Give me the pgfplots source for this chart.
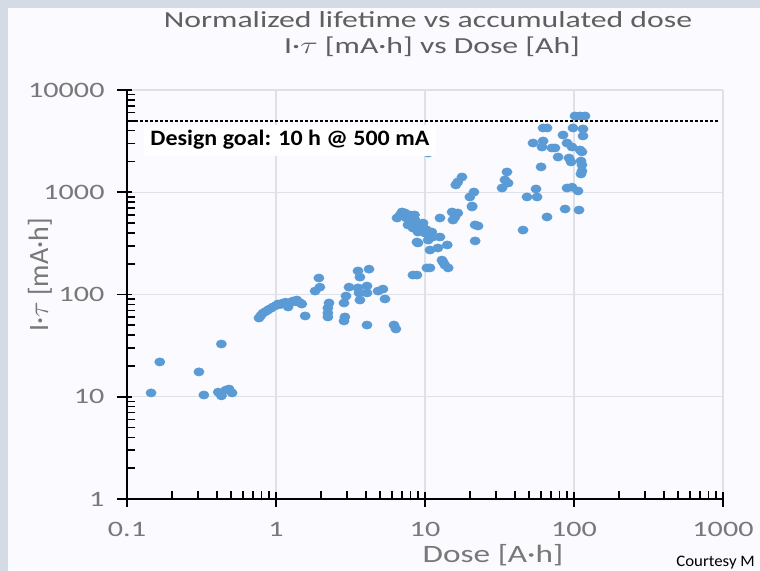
\documentclass[border=0pt]{standalone}
\usepackage{pgfplots}
\pgfplotsset{compat=1.18}
\usepackage{fontspec}
\setmainfont{Carlito}
\definecolor{dotblue}{RGB}{91,155,213}
\definecolor{titlegray}{RGB}{95,95,95}
\definecolor{labelgray}{RGB}{120,120,120}
\definecolor{gridgray}{RGB}{222,226,232}
\definecolor{panel}{RGB}{212,219,229}

\begin{document}
\begin{tikzpicture}
% page = 760 x 571 px, 1px = 0.5pt
\useasboundingbox (0,0) rectangle (380pt,285.5pt);
\begin{scope}[x=0.5pt,y=0.5pt]
\fill[panel] (0,0) rectangle (760,571);
\fill[white!98!blue] (8,0) rectangle (760,563);
\end{scope}

\begin{axis}[
    at={(63.5pt,36pt)}, anchor=south west,
    scale only axis, width=298pt, height=204.5pt,
    xmode=log, ymode=log,
    xmin=0.1, xmax=1000, ymin=1, ymax=10000,
    axis x line*=bottom, axis y line*=left,
    axis line style={black, line width=0.9pt},
    xtick={0.1,1,10,100,1000}, xticklabels={0.1,1,10,100,1000},
    ytick={1,10,100,1000,10000}, yticklabels={1,10,100,1000,10000},
    minor xtick={0.2,0.3,0.4,0.5,0.6,0.7,0.8,0.9,2,3,4,5,6,7,8,9,20,30,40,50,60,70,80,90,200,300,400,500,600,700,800,900},
    minor ytick={2,3,4,5,6,7,8,9,20,30,40,50,60,70,80,90,200,300,400,500,600,700,800,900,2000,3000,4000,5000,6000,7000,8000,9000},
    tick align=inside, major tick length=7.5pt, minor tick length=4pt,
    every major x tick/.append style={yshift=-4pt},
    every major y tick/.append style={xshift=-5pt},
    tick style={black, line width=0.8pt},
    grid=major, major grid style={gridgray, line width=0.6pt},
    ticklabel style={font=\fontsize{11}{13}\selectfont, text=labelgray, xscale=1.37},
    xticklabel shift=8pt, yticklabel shift=6.4pt,
]

% measured points: dose [A h], I*tau [mA h]
\addplot[dotblue, only marks, mark=*, mark size=2pt,
    mark options={fill=dotblue, draw=dotblue, xscale=1.25}] table {
x y
0.145 10.9
0.166 21.9
0.304 17.5
0.328 10.4
0.41 11.1
0.43 10.2
0.43 32.8
0.46 11.6
0.484 11.9
0.507 10.9
0.769 58.9
0.79 62
0.818 65.9
0.85 68
0.883 70.5
0.92 73
0.955 75.5
1.0 78
1.03 80.7
1.08 80
1.114 82.6
1.16 84
1.205 75.5
1.25 84
1.30 86.3
1.35 85
1.38 88.3
1.45 83
1.49 80.7
1.57 61.7
1.83 108
1.94 145
1.97 118
2.23 60.3
2.23 65.9
2.23 73.8
2.27 82.6
2.86 55.1
2.86 82.6
2.90 60.3
2.95 96.6
3.09 118
3.55 116
3.55 170
3.61 103.5
3.66 88.3
3.66 148
4.08 50.3
4.08 103.5
4.08 121
4.21 177
4.84 108
5.22 113
5.39 90.4
6.19 50.3
6.38 46
8.3 155
8.83 155
10.3 182
6.49 560
6.80 600
7.01 641
7.34 627
7.5 560
7.69 479
7.93 600
8.0 520
8.18 573
8.30 447
8.5 600
8.57 535
8.83 326
8.97 408
8.97 319
9.0 430
9.2 480
9.70 500
9.70 457
10.0 399
10.2 430
10.5 341
10.8 382
10.8 272
10.8 182
11.1 408
11.3 365
12.2 285
12.6 560
12.6 365
13.0 217
13.2 208
13.6 194
14.1 305
14.3 182
15.2 641
15.4 535
15.9 573
16.6 627
20.7 718
21.7 479
21.7 334
22.7 468
10.5 2420
16.1 1180
16.6 1260
17.7 1410
20.0 899
20.7 734
21.3 1005
32.9 1100
34.4 1320
35.5 1580
36.1 1230
45.5 427
48.4 899
53.1 3030
55.6 1077
56.5 899
60.1 1770
61.0 2770
62.0 3170
62.0 4250
65.9 4250
65.9 573
71.1 2710
74.5 2710
78.2 2210
84.4 3630
87.1 686
89.8 3030
89.8 1100
92.5 2160
95.5 1980
97.0 2770
97.0 1120
98.5 4250
101.6 5570
106.4 1030
108.1 670
109.8 5570
109.8 2590
111.4 2020
111.4 1510
113.1 2480
113.1 1850
113.1 1610
114.9 4160
114.9 3550
118.6 5570
};

% design goal 10 h at 500 mA
\addplot[black, line width=0.8pt, dash pattern=on 1.2pt off 1.3pt] coordinates {(0.105,5000) (920,5000)};
\end{axis}

\begin{scope}[x=0.5pt,y=0.5pt]
% annotation box, drawn over the markers
\node[anchor=base west, fill=white, inner xsep=3pt, inner ysep=3pt, text depth=2.2pt,
    font=\bfseries\fontsize{11}{13}\selectfont, xscale=1.09]
    at (143.5,425) {Design goal: 10 h @ 500 mA};
\node[anchor=base, text=titlegray, font=\fontsize{11.5}{14}\selectfont, xscale=1.38]
    at (428,543) {Normalized lifetime vs accumulated dose};
\node[anchor=base, text=titlegray, font=\fontsize{11.5}{14}\selectfont, xscale=1.38]
    at (432,517) {I·$\tau$ [mA·h] vs Dose [Ah]};
\node[anchor=base, text=labelgray, font=\fontsize{12.5}{14}\selectfont, xscale=1.33]
    at (493,8) {Dose [A·h]};
\node[rotate=90, text=labelgray, font=\fontsize{14}{16}\selectfont]
    at (40,296) {I·$\tau$ [mA·h]};
\node[anchor=base west, inner sep=0pt, font=\fontsize{8}{9}\selectfont, xscale=1.05]
    at (676,4) {Courtesy M};
\end{scope}
\end{tikzpicture}
\end{document}
